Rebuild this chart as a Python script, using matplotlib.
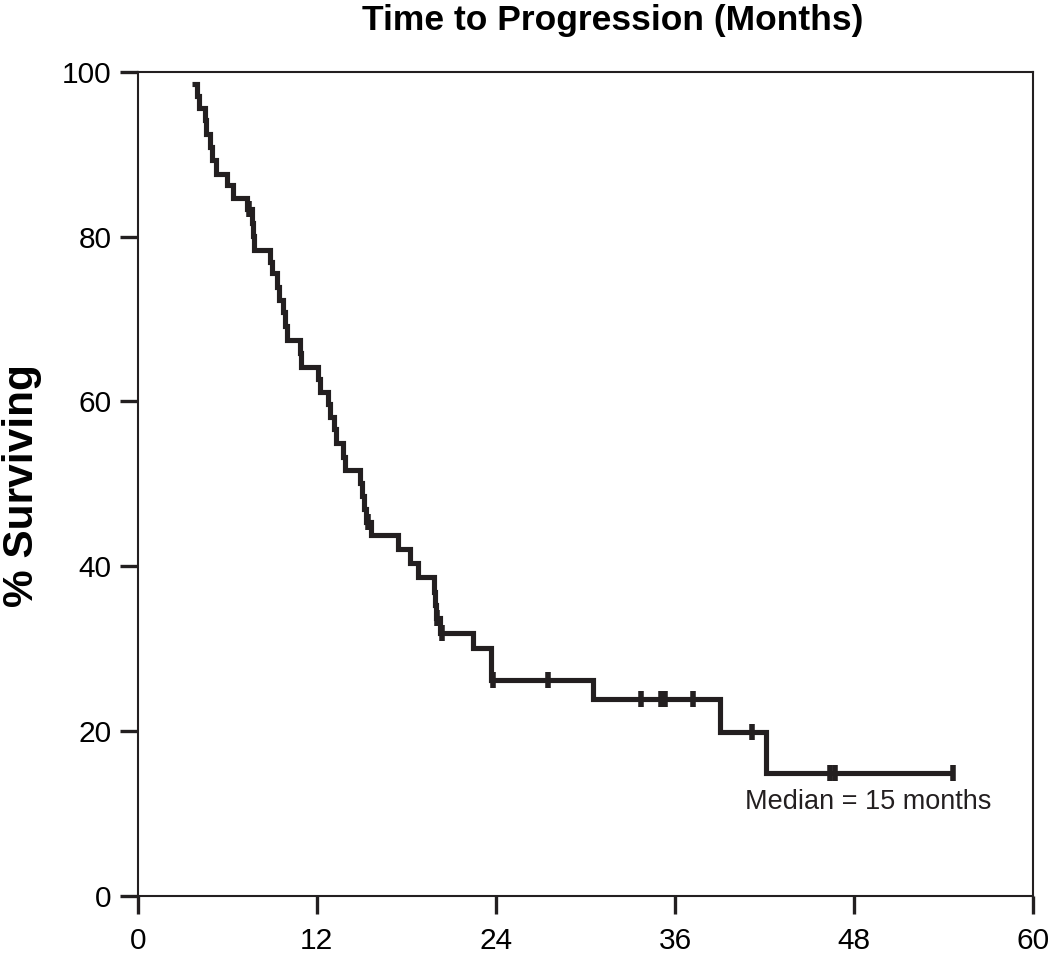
import matplotlib
matplotlib.use("Agg")
import matplotlib.pyplot as plt

plt.rcParams["font.family"] = ["Liberation Sans", "DejaVu Sans"]

# step curve: time of each drop (months) and level after it (%)
times = [3.64, 3.97, 4.11, 4.51, 4.57, 4.84, 4.98, 5.25, 5.98, 6.39,
         7.32, 7.66, 7.72, 7.79, 8.86, 8.99, 9.33, 9.46, 9.73, 9.87,
         10.0, 10.87, 10.94, 12.07, 12.21, 12.75, 12.88, 13.15, 13.28, 13.75,
         13.88, 14.89, 15.02, 15.16, 15.29, 15.63, 17.43, 18.24, 18.77, 19.85,
         19.92, 19.98, 20.25, 22.46, 23.66, 30.50, 39.0, 42.08, 54.68]
levels = [98.5, 97.1, 95.6, 94.1, 92.4, 90.9, 89.3, 87.6, 86.3, 84.7,
          83.3, 81.7, 80.1, 78.4, 76.9, 75.6, 73.9, 72.3, 70.8, 69.1,
          67.5, 65.9, 64.2, 62.7, 61.2, 59.7, 58.1, 56.6, 55.0, 53.3,
          51.7, 50.1, 48.5, 47.0, 45.4, 43.8, 42.1, 40.4, 38.7, 36.9,
          35.3, 33.7, 31.9, 30.1, 26.2, 23.9, 19.9, 14.9, 14.9]

# censored patients (tick marks)
censor_t = [7.45, 15.43, 20.05, 20.38, 23.79, 27.46, 33.74, 35.05, 35.35,
            37.21, 41.14, 46.37, 46.74, 54.65]
censor_s = [83.3, 45.4, 33.7, 31.9, 26.2, 26.2, 23.9, 23.9, 23.9,
            23.9, 19.9, 14.9, 14.9, 14.9]

x_ticks = [0, 12, 24, 36, 48, 60]
y_ticks = [0, 20, 40, 60, 80, 100]

ink = "#231f20"

fig = plt.figure(figsize=(10.5, 9.61), dpi=100)
ax = fig.add_axes([0.1311, 0.0676, 0.8530, 0.8578])

ax.step(times, levels, where="post", color=ink, lw=3.7,
        solid_joinstyle="miter", solid_capstyle="butt")
ax.plot(censor_t, censor_s, "|", ms=11, mew=4, color=ink)

ax.set_xlim(0, 60)
ax.set_ylim(0, 100)
ax.set_xticks(x_ticks)
ax.set_yticks(y_ticks)
for s in ax.spines.values():
    s.set_linewidth(1.5)
    s.set_color(ink)
ax.tick_params(axis="both", direction="out", length=13, width=2.4,
               color=ink, labelsize=21.5)
ax.tick_params(axis="x", pad=9)
ax.tick_params(axis="y", pad=6)

ax.text(40.7, 11.4, "Median = 15 months", fontsize=19.5, ha="left",
        va="center", color=ink)

fig.text(0.5833, 0.9688, "Time to Progression (Months)", fontsize=25.5,
         fontweight="bold", ha="center", va="baseline")
fig.text(0.021, 0.4948, "% Surviving", fontsize=30.5, fontweight="bold",
         rotation=90, ha="center", va="center")

fig.savefig("out.png", dpi=100)
